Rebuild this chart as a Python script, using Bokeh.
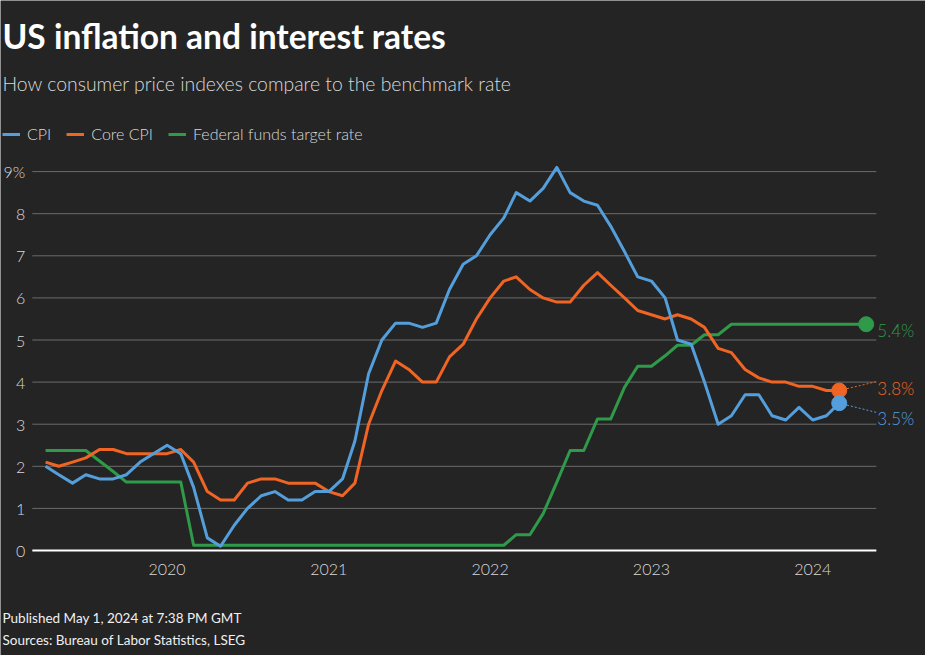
import pandas as pd
from bokeh.plotting import figure
from bokeh.models import (ColumnDataSource, Range1d, FixedTicker, DatetimeTickFormatter,
                          Label, Legend, LegendItem)
from bokeh.embed import file_html
from bokeh.resources import INLINE

# ---------------- data ----------------
cpi_start = "2019-04-01"
cpi = [2.0, 1.8, 1.6, 1.8, 1.7, 1.7, 1.8, 2.1, 2.3,
       2.5, 2.3, 1.5, 0.3, 0.1, 0.6, 1.0, 1.3, 1.4, 1.2, 1.2, 1.4,
       1.4, 1.7, 2.6, 4.2, 5.0, 5.4, 5.4, 5.3, 5.4, 6.2, 6.8, 7.0,
       7.5, 7.9, 8.5, 8.3, 8.6, 9.1, 8.5, 8.3, 8.2, 7.7, 7.1, 6.5,
       6.4, 6.0, 5.0, 4.9, 4.0, 3.0, 3.2, 3.7, 3.7, 3.2, 3.1, 3.4,
       3.1, 3.2, 3.5]
core_cpi = [2.1, 2.0, 2.1, 2.2, 2.4, 2.4, 2.3, 2.3, 2.3,
            2.3, 2.4, 2.1, 1.4, 1.2, 1.2, 1.6, 1.7, 1.7, 1.6, 1.6, 1.6,
            1.4, 1.3, 1.6, 3.0, 3.8, 4.5, 4.3, 4.0, 4.0, 4.6, 4.9, 5.5,
            6.0, 6.4, 6.5, 6.2, 6.0, 5.9, 5.9, 6.3, 6.6, 6.3, 6.0, 5.7,
            5.6, 5.5, 5.6, 5.5, 5.3, 4.8, 4.7, 4.3, 4.1, 4.0, 4.0, 3.9,
            3.9, 3.8, 3.8]
fed_start = "2019-04-01"
fed_rate = [2.375, 2.375, 2.375, 2.375, 2.125, 1.875, 1.625, 1.625, 1.625,
            1.625, 1.625, 0.125, 0.125, 0.125, 0.125, 0.125, 0.125, 0.125, 0.125, 0.125, 0.125,
            0.125, 0.125, 0.125, 0.125, 0.125, 0.125, 0.125, 0.125, 0.125, 0.125, 0.125, 0.125,
            0.125, 0.125, 0.375, 0.375, 0.875, 1.625, 2.375, 2.375, 3.125, 3.125, 3.875, 4.375,
            4.375, 4.625, 4.875, 4.875, 5.125, 5.125, 5.375, 5.375, 5.375, 5.375, 5.375, 5.375,
            5.375, 5.375, 5.375, 5.375, 5.375]
series_names = ["CPI", "Core CPI", "Federal funds target rate"]
year_ticks = ["2020-01-01", "2021-01-01", "2022-01-01", "2023-01-01", "2024-01-01"]
y_ticks = [0, 1, 2, 3, 4, 5, 6, 7, 8, 9]
y_tick_overrides = {9: "9%"}
title_text = "US inflation and interest rates"
subtitle_text = "How consumer price indexes compare to the benchmark rate"
footer_lines = ["Published May 1, 2024 at 7:38 PM GMT",
                "Sources: Bureau of Labor Statistics, LSEG"]

# ---------------- style / layout ----------------
BG = "#242424"
BLUE = "#549fdb"
ORANGE = "#f06424"
GREEN = "#2f9a49"
GRID = "#6c6c6c"
TXT = "#d9d9d9"
LIGHT = "Lato Light"
REG = "Lato"

W, H = 925, 655
PX_PER_DAY = 0.4419        # horizontal scale
PX_PER_UNIT = 42.1         # vertical scale
ORIGIN_X = 166.6           # figure px of 2020-01-01
ORIGIN_Y = 550             # figure px of y = 0

origin_date = pd.Timestamp("2020-01-01")
x_start = origin_date - pd.Timedelta(days=ORIGIN_X / PX_PER_DAY)
x_end = origin_date + pd.Timedelta(days=(W - ORIGIN_X) / PX_PER_DAY)
y_start = -(H - ORIGIN_Y) / PX_PER_UNIT
y_end = ORIGIN_Y / PX_PER_UNIT

plot_left = pd.Timestamp("2019-03-02")    # where grid lines begin
plot_right = pd.Timestamp("2024-05-24")   # where grid lines end


def sx(fig_x):
    return fig_x


def sy(fig_y):
    return H - fig_y


def ms(ts):
    return pd.Timestamp(ts).value / 1e6


cpi_dates = pd.date_range(cpi_start, periods=len(cpi), freq="MS")
fed_dates = pd.date_range(fed_start, periods=len(fed_rate), freq="MS")

src_cpi = ColumnDataSource(dict(x=cpi_dates, cpi=cpi, core=core_cpi))
src_fed = ColumnDataSource(dict(x=fed_dates, fed=fed_rate))

p = figure(width=W, height=H, x_axis_type="datetime",
           x_range=Range1d(x_start, x_end), y_range=Range1d(y_start, y_end),
           output_backend="svg", toolbar_location=None,
           background_fill_color=BG, border_fill_color=BG,
           min_border=0, min_border_left=0, min_border_right=0,
           min_border_top=0, min_border_bottom=0)
p.outline_line_color = None
p.xgrid.visible = False
p.ygrid.visible = False

# grid lines (stop at the plot's right edge)
grid_vals = [t for t in y_ticks if t > 0]
p.segment(x0=[plot_left] * len(grid_vals), y0=grid_vals,
          x1=[plot_right] * len(grid_vals), y1=grid_vals,
          line_color=GRID, line_width=1)
p.segment(x0=[plot_left], y0=[0], x1=[plot_right], y1=[0], line_color="white", line_width=2)

# y axis
p.yaxis.fixed_location = ms(plot_left)
p.yaxis.ticker = FixedTicker(ticks=y_ticks)
p.yaxis.major_label_overrides = y_tick_overrides
p.yaxis.axis_line_color = None
p.yaxis.major_tick_line_color = None
p.yaxis.minor_tick_line_color = None
p.yaxis.major_tick_out = 0
p.yaxis.major_tick_in = 0
p.yaxis.minor_tick_out = 0
p.yaxis.major_label_standoff = 7
p.yaxis.major_label_text_color = TXT
p.yaxis.major_label_text_font = LIGHT
p.yaxis.major_label_text_font_size = "16px"

# x axis
p.xaxis.fixed_location = 0
p.xaxis.ticker = FixedTicker(ticks=[ms(t) for t in year_ticks])
p.xaxis.formatter = DatetimeTickFormatter(years="%Y", months="%Y", days="%Y", hours="%Y")
p.xaxis.axis_line_color = None
p.xaxis.major_tick_line_color = None
p.xaxis.minor_tick_line_color = None
p.xaxis.major_tick_out = 0
p.xaxis.major_tick_in = 0
p.xaxis.minor_tick_out = 0
p.xaxis.major_label_standoff = 13
p.xaxis.major_label_text_color = TXT
p.xaxis.major_label_text_font = LIGHT
p.xaxis.major_label_text_font_size = "16px"

# lines
r_fed = p.line("x", "fed", source=src_fed, color=GREEN, line_width=3, line_join="round")
r_core = p.line("x", "core", source=src_cpi, color=ORANGE, line_width=3, line_join="round")
r_cpi = p.line("x", "cpi", source=src_cpi, color=BLUE, line_width=3, line_join="round")

# leader lines to end labels
p.line([cpi_dates[-1], plot_right], [core_cpi[-1], core_cpi[-1] + 0.21],
       color=ORANGE, line_width=1, line_dash="2 2")
p.line([cpi_dates[-1], plot_right], [cpi[-1], cpi[-1] - 0.22],
       color=BLUE, line_width=1, line_dash="2 2")

# end markers
p.scatter([cpi_dates[-1]], [core_cpi[-1]], size=15, color=ORANGE)
p.scatter([cpi_dates[-1]], [cpi[-1]], size=15, color=BLUE)
p.scatter([fed_dates[-1]], [fed_rate[-1]], size=15, color=GREEN)

end_labels = [(fed_rate[-1], -0.15, GREEN), (core_cpi[-1], 0.05, ORANGE), (cpi[-1], -0.36, BLUE)]
for val, dy, col in end_labels:
    p.add_layout(Label(x=ms(plot_right), y=val + dy, x_offset=1, text=f"{val:.1f}%",
                       text_color=col, text_font=LIGHT, text_font_size="17px",
                       text_baseline="middle", text_align="left"))

# legend
legend = Legend(items=[LegendItem(label=series_names[0], renderers=[r_cpi]),
                       LegendItem(label=series_names[1], renderers=[r_core]),
                       LegendItem(label=series_names[2], renderers=[r_fed])],
                orientation="horizontal", location=(sx(2), sy(143)),
                glyph_width=18, glyph_height=16, label_height=16, label_standoff=7,
                spacing=15, padding=0, margin=0,
                background_fill_alpha=0, border_line_color=None,
                label_text_color=TXT, label_text_font=LIGHT, label_text_font_size="16px")
p.add_layout(legend, "center")

# titles and footer (vertical centres in figure pixels)
p.add_layout(Label(x=sx(2), y=sy(35), x_units="screen", y_units="screen", text=title_text,
                   text_color="white", text_font=REG, text_font_style="bold",
                   text_font_size="33.5px", text_baseline="middle"))
p.add_layout(Label(x=sx(2), y=sy(83), x_units="screen", y_units="screen", text=subtitle_text,
                   text_color=TXT, text_font=LIGHT, text_font_size="19.4px",
                   text_baseline="middle"))
for i, line in enumerate(footer_lines):
    p.add_layout(Label(x=sx(2), y=sy(617 + 22 * i), x_units="screen", y_units="screen", text=line,
                       text_color="#f0f0f0", text_font=REG, text_font_size="13.5px",
                       text_baseline="middle"))

open("out.html", "w").write(file_html(p, INLINE))
